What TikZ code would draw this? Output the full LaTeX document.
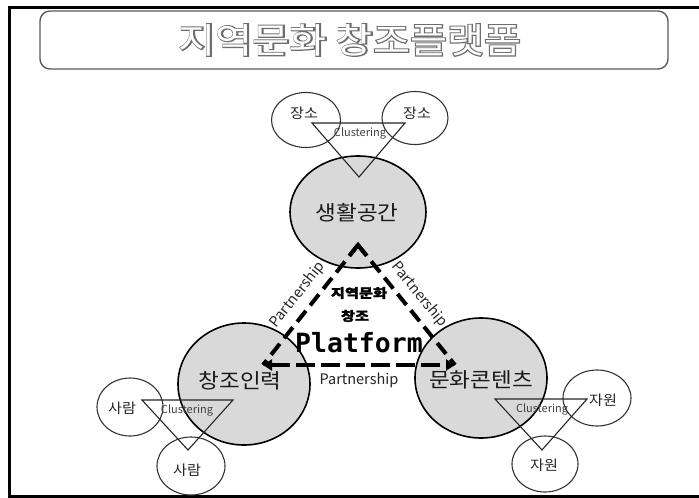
\documentclass[tikz,border=0pt]{standalone}
\usepackage{fontspec}
\setmainfont{Noto Sans CJK KR}
\newfontfamily\platfont{DejaVu Sans Mono}
\newfontfamily\krheavy{Noto Sans CJK KR}[FakeBold=1.6]
\newfontfamily\titlestroke{Noto Sans CJK KR}[FakeBold=6]
\usetikzlibrary{shapes.geometric, arrows.meta, calc}
\definecolor{cellfill}{HTML}{D9D9D9}
\definecolor{titleline}{HTML}{5A5A5A}
\definecolor{titlegray}{HTML}{6E6E6E}

\tikzset{
  bigell/.style={ellipse, draw=black, line width=1.6pt, fill=cellfill, inner sep=0pt},
  smallell/.style={ellipse, draw=black!80, line width=1.1pt, inner sep=0pt},
  clus/.style={draw=black!85, line width=1.1pt, line join=miter},
  bigtxt/.style={font=\fontsize{20.5}{20.5}\selectfont, inner sep=0pt, text=black!90},
  smalltxt/.style={font=\fontsize{14}{14}\selectfont, inner sep=0pt, text=black!85},
  clustxt/.style={font=\fontsize{11}{11}\selectfont, inner sep=0pt, text=black!75},
  parttxt/.style={font=\fontsize{14.5}{14.5}\selectfont, inner sep=0pt, text=black!85},
  heavytxt/.style={font=\krheavy\bfseries\fontsize{14.5}{14.5}\selectfont, inner sep=0pt},
  platleg/.style={line width=4pt, black, dash pattern=on 14pt off 7pt},
  platbase/.style={line width=4pt, black, dash pattern=on 19pt off 6pt},
  titletxt/.style={font=\fontsize{35}{35}\selectfont, inner sep=0pt}
}

\begin{document}
\begin{tikzpicture}[x=1pt, y=-1pt]
\useasboundingbox (0,0) rectangle (699,498);

% outer frame
\draw[line width=3pt] (9.5,7.5) rectangle (702,496.5);

% title box with outlined lettering: a thickened gray copy under a white one
\node[draw=titleline, line width=1.4pt, rounded corners=10pt,
      minimum width=628pt, minimum height=58pt, inner sep=0pt] (titlebox) at (354,40) {};
\node[titletxt, text=titlegray] (titleback) at (350,40)
  {\titlestroke\scalebox{1.15}[1]{지역문화 창조플랫폼}};
\node[titletxt, text=white] (title) at (350,40) {\scalebox{1.15}[1]{지역문화 창조플랫폼}};

% three main ellipses
\node[bigell, minimum width=136pt, minimum height=112pt] (life) at (358,212) {};
\node[bigell, minimum width=132pt, minimum height=122pt] (people) at (244,384) {};
\node[bigell, minimum width=132pt, minimum height=120pt] (content) at (481,378) {};

\node[bigtxt] (lifet) at (357,213) {\scalebox{1.1}[1]{생활공간}};
\node[bigtxt] (peoplet) at (240,381) {\scalebox{1.1}[1]{창조인력}};
\node[bigtxt] (contentt) at (481,380) {\scalebox{1.1}[1]{문화콘텐츠}};

% platform triangle
\coordinate (ap) at (358,245);
\coordinate (bl) at (263,365);
\coordinate (br) at (455,365);
\draw[platleg] (ap) -- node[parttxt, sloped, above=7pt, pos=0.5] (pl) {Partnership} (bl);
\draw[platleg] (ap) -- node[parttxt, sloped, above=7pt, pos=0.5] (pr) {Partnership} (br);
\draw[line width=4pt, line join=miter, line cap=butt] ($(ap)!13pt!(bl)$) -- (ap) -- ($(ap)!13pt!(br)$);
\draw[platbase, {Triangle[length=9pt,width=11pt]}-{Triangle[length=9pt,width=11pt]}]
  (bl) -- node[parttxt, below=6pt] (pb) {Partnership} (br);

\node[heavytxt] (plt1) at (359,293) {\scalebox{1.05}[0.88]{지역문화}};
\node[heavytxt] (plt2) at (355,316) {\scalebox{1.05}[0.88]{창조}};
\node[font=\platfont\bfseries\fontsize{26.5}{26.5}\selectfont, inner sep=0pt] (plt3) at (359,343) {Platform};

% clustering around 생활공간
\node[smallell, minimum width=69pt, minimum height=55pt] (pl1) at (306,120) {};
\node[smallell, minimum width=66pt, minimum height=53pt] (pl2) at (415,118) {};
\node[smalltxt] (pl1t) at (304,113) {\scalebox{1.08}[1]{장소}};
\node[smalltxt] (pl2t) at (417,113) {\scalebox{1.08}[1]{장소}};
\coordinate (c1a) at (312,123); \coordinate (c1b) at (405,123); \coordinate (c1c) at (359,177);
\draw[clus] (c1a) -- (c1b) -- (c1c) -- cycle;
\node[clustxt] (c1t) at (360,133) {Clustering};

% clustering around 창조인력
\node[smallell, minimum width=66pt, minimum height=58pt] (hp1) at (130,407) {};
\node[smallell, minimum width=68pt, minimum height=58pt] (hp2) at (191,466) {};
\node[smalltxt] (hp1t) at (122,408) {\scalebox{1.08}[1]{사람}};
\node[smalltxt] (hp2t) at (187,470) {\scalebox{1.08}[1]{사람}};
\coordinate (c2a) at (142,400); \coordinate (c2b) at (233,400); \coordinate (c2c) at (188,450);
\draw[clus] (c2a) -- (c2b) -- (c2c) -- cycle;
\node[clustxt] (c2t) at (187,410) {Clustering};

% clustering around 문화콘텐츠
\node[smallell, minimum width=68pt, minimum height=56pt] (rs1) at (597,398) {};
\node[smallell, minimum width=66pt, minimum height=56pt] (rs2) at (545,464) {};
\node[smalltxt] (rs1t) at (603,400) {\scalebox{1.08}[1]{자원}};
\node[smalltxt] (rs2t) at (544,465) {\scalebox{1.08}[1]{자원}};
\coordinate (c3a) at (495,399); \coordinate (c3b) at (587,399); \coordinate (c3c) at (542,450);
\draw[clus] (c3a) -- (c3b) -- (c3c) -- cycle;
\node[clustxt] (c3t) at (542,409) {Clustering};
\end{tikzpicture}
\end{document}
